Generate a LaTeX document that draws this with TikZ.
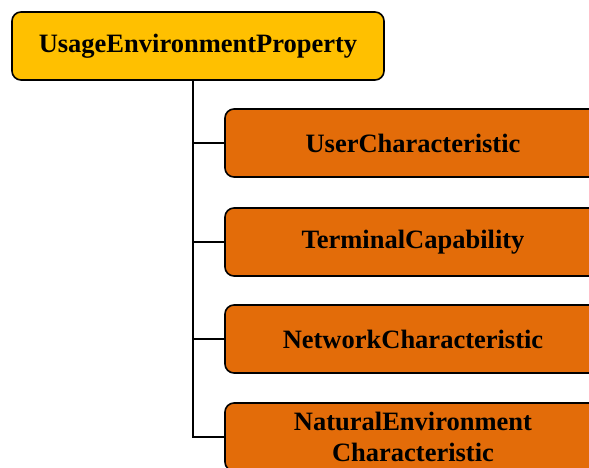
\documentclass[tikz,border=0pt]{standalone}
\usepackage{fontspec}
\setmainfont{Liberation Serif}
\usetikzlibrary{positioning}

\definecolor{rootyellow}{HTML}{FFC000}
\definecolor{leaforange}{HTML}{E36C09}

\begin{document}
\begin{tikzpicture}[x=1pt,y=-1pt]
            \clip (0,0) rectangle (589,468);

            \begin{scope}[every node/.style={draw=black,line width=1.6pt,rounded corners=9pt,
                          minimum height=68pt,align=center,inner sep=0pt,
                          font=\fontsize{26.5}{31}\selectfont\bfseries}]
                \node (root) [fill=rootyellow,minimum width=372pt] at (198,46) {UsageEnvironmentProperty};
            \end{scope}

            \begin{scope}[every node/.style={draw=black,line width=1.6pt,rounded corners=9pt,
                          fill=leaforange,minimum width=376pt,minimum height=68pt,
                          align=center,inner sep=0pt,
                          font=\fontsize{26.5}{31}\selectfont\bfseries}]
                \node (user) at (413,143) {UserCharacteristic};
                \node (terminal) at (413,242) {TerminalCapability};
                \node (network) at (413,339) {NetworkCharacteristic};
                \node (natural) at (413,437) {NaturalEnvironment\\Characteristic};
            \end{scope}

            \coordinate (trunk) at (193,80);

            \begin{scope}[every path/.style={draw=black,line width=1.4pt}]
                \path (trunk) |- (user.west);
                \path (trunk) |- (terminal.west);
                \path (trunk) |- (network.west);
                \path (trunk) |- (natural.west);
            \end{scope}
        \end{tikzpicture}
\end{document}
